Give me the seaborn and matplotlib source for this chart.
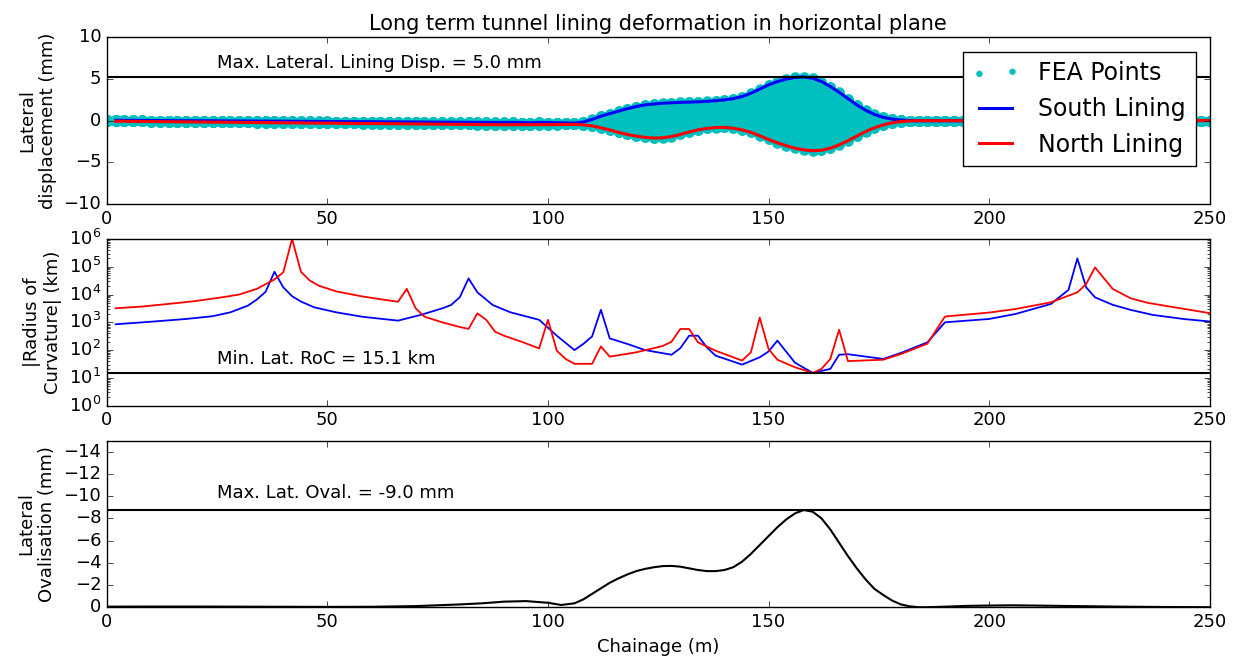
import numpy as np
import pandas as pd
import seaborn as sns
import matplotlib
matplotlib.use('Agg')
import matplotlib.pyplot as plt
from matplotlib.ticker import LogLocator

# ---- data ----

# lateral displacement of the linings (mm), every 2 m of chainage
chainage = np.arange(0, 251, 2)

south_disp = [0.05, 0.05, 0.04, 0.04, 0.03, 0.02, 0.02, 0.01, 0.0, 0.0,
              0.0, -0.01, -0.01, -0.02, -0.03, -0.03, -0.04, -0.05, -0.05, -0.06,
              -0.06, -0.07, -0.08, -0.08, -0.09, -0.09, -0.1, -0.11, -0.11, -0.12,
              -0.12, -0.13, -0.14, -0.14, -0.15, -0.15, -0.16, -0.17, -0.17, -0.18,
              -0.19, -0.19, -0.2, -0.2, -0.21, -0.21, -0.2, -0.22, -0.25, -0.2,
              -0.22, -0.24, -0.26, -0.3, -0.15, 0.15, 0.55, 0.85, 1.15, 1.45,
              1.7, 1.9, 2.0, 2.1, 2.15, 2.2, 2.23, 2.27, 2.32, 2.4,
              2.5, 2.65, 2.9, 3.3, 3.8, 4.3, 4.7, 5.0, 5.2, 5.25,
              5.1, 4.7, 4.1, 3.4, 2.65, 1.9, 1.25, 0.75, 0.4, 0.2,
              0.08, 0.02, 0.0, 0.0, 0.0, 0.0, 0.0, 0.0, 0.0, 0.0,
              0.0, 0.0, 0.0, 0.0, 0.0, 0.0, 0.0, 0.0, 0.0, 0.0,
              0.0, 0.0, 0.0, 0.0, 0.0, 0.0, 0.0, 0.0, 0.0, 0.0,
              0.0, 0.0, 0.01, 0.01, 0.02, 0.02]

north_disp = [-0.05, -0.06, -0.07, -0.08, -0.09, -0.1, -0.11, -0.12, -0.13, -0.14,
              -0.15, -0.16, -0.17, -0.18, -0.19, -0.2, -0.21, -0.22, -0.23, -0.24,
              -0.25, -0.26, -0.27, -0.28, -0.29, -0.3, -0.31, -0.32, -0.33, -0.34,
              -0.34, -0.35, -0.36, -0.37, -0.38, -0.39, -0.4, -0.41, -0.42, -0.43,
              -0.44, -0.45, -0.46, -0.47, -0.48, -0.49, -0.48, -0.48, -0.48, -0.47,
              -0.47, -0.46, -0.45, -0.44, -0.5, -0.62, -0.85, -1.1, -1.4, -1.65,
              -1.85, -2.0, -2.08, -2.05, -1.9, -1.65, -1.35, -1.1, -0.92, -0.82,
              -0.8, -0.9, -1.1, -1.4, -1.8, -2.25, -2.65, -3.0, -3.3, -3.5,
              -3.6, -3.55, -3.3, -2.9, -2.4, -1.85, -1.3, -0.85, -0.5, -0.25,
              -0.1, -0.03, 0.0, 0.0, 0.0, 0.0, 0.0, 0.0, 0.0, 0.0,
              0.0, 0.0, 0.0, 0.0, 0.0, 0.0, 0.0, 0.0, 0.0, 0.0,
              0.0, 0.0, 0.0, 0.0, 0.0, 0.0, 0.0, 0.0, 0.0, 0.0,
              0.0, 0.01, 0.01, 0.02, 0.02, 0.02]

# position of the FEA nodes across the ring, 0 = north lining, 1 = south lining
ring_fractions = [0.0, 0.01, 0.03, 0.06, 0.1, 0.15, 0.2, 0.26, 0.32, 0.39, 0.46,
                  0.54, 0.61, 0.68, 0.74, 0.8, 0.85, 0.9, 0.94, 0.97, 0.99, 1.0]

# |radius of curvature| (km)
south_roc_ch = [2, 10, 18, 24, 28, 32, 34, 36, 38, 40, 42, 44, 47, 52, 58, 66, 71, 76, 78, 80,
                82, 84, 87.5, 91.5, 98, 102, 106, 108, 110, 112, 114, 118, 122, 128, 130, 132,
                134, 136, 138, 144, 148, 150, 152, 156, 160, 164, 166, 168, 176, 180, 186, 190,
                200, 206, 214, 218, 220, 222, 224, 228, 232, 237, 244, 250]
south_roc = [850, 1050, 1320, 1660, 2290, 4000, 6600, 12600, 66000, 18200, 8700, 5600, 3470,
             2290, 1580, 1150, 1820, 3160, 4170, 7940, 38000, 12000, 4170, 2290, 1230, 330,
             100, 166, 310, 2820, 263, 166, 100, 68, 117, 330, 330, 126, 63, 30, 55, 89, 219,
             35, 15.1, 21, 68, 71, 48, 79, 190, 1000, 1320, 2000, 4570, 14800, 200000, 18200,
             7940, 4270, 2820, 1860, 1320, 1070]

north_roc_ch = [2, 8, 14, 20, 26, 30, 34, 38, 40, 42, 44, 46, 48, 52, 58, 62, 66, 68, 70, 72,
                76, 80, 82, 84, 86, 88, 90, 94, 98, 100, 102, 104, 106, 110, 112, 114, 120, 126,
                128, 130, 132, 134, 138, 144, 146, 148, 150, 152, 156, 160, 162, 164, 166, 168,
                176, 180, 186, 190, 200, 206, 214, 220, 222, 224, 228, 232, 236, 242, 250]
north_roc = [3200, 3700, 4600, 5800, 7900, 10000, 16000, 35000, 63000, 1000000, 66000, 32000,
             21000, 13000, 8500, 6800, 5500, 16000, 3200, 1600, 1000, 680, 580, 2100, 1230, 460,
             330, 200, 115, 1230, 95, 48, 32, 32, 135, 58, 83, 140, 200, 575, 575, 190, 95, 42,
             83, 1480, 110, 45, 24, 15.1, 21, 48, 540, 40, 45, 72, 170, 1620, 2240, 3020, 5250,
             12000, 24000, 95000, 16000, 7400, 5000, 3470, 2140]

# lateral ovalisation (mm)
oval_ch = [0, 10, 20, 30, 40, 50, 60, 70, 80, 85, 90, 95, 100, 103, 106, 108, 110, 112, 114,
           116, 118, 120, 122, 124, 126, 128, 130, 132, 134, 136, 138, 140, 142, 144, 146, 148,
           150, 152, 154, 156, 158, 160, 162, 164, 166, 168, 170, 172, 174, 176, 178, 180, 182,
           184, 186, 190, 195, 200, 205, 210, 220, 230, 240, 250]
oval = [-0.05, -0.06, -0.06, -0.05, -0.04, -0.03, -0.04, -0.1, -0.25, -0.35, -0.5, -0.55, -0.4,
        -0.2, -0.35, -0.7, -1.2, -1.7, -2.2, -2.6, -2.95, -3.25, -3.45, -3.6, -3.7, -3.72, -3.65,
        -3.5, -3.35, -3.25, -3.25, -3.35, -3.6, -4.1, -4.8, -5.6, -6.4, -7.2, -7.9, -8.45, -8.75,
        -8.6, -8.0, -7.0, -5.8, -4.6, -3.5, -2.5, -1.65, -1.1, -0.6, -0.25, -0.08, 0.0, 0.0,
        -0.05, -0.12, -0.15, -0.17, -0.15, -0.1, -0.05, -0.02, 0.0]

min_roc = 15.1

# FEA point cloud
fea_x, fea_y = [], []
for c, s, n in zip(chainage, south_disp, north_disp):
    for f in ring_fractions:
        fea_x.append(c)
        fea_y.append(n + f * (s - n))
fea = pd.DataFrame({'chainage': fea_x, 'disp': fea_y})

# ---- plot ----
plt.style.use('classic')
plt.rcParams['font.family'] = ['DejaVu Sans']
plt.rcParams['font.size'] = 13
plt.rcParams['figure.facecolor'] = 'white'
plt.rcParams['savefig.facecolor'] = 'white'

fig, (ax1, ax2, ax3) = plt.subplots(3, 1, figsize=(12.42, 6.68), dpi=100)
fig.subplots_adjust(left=0.086, right=0.974, top=0.944, bottom=0.091, hspace=0.21)

# top: lateral displacement
sns.scatterplot(data=fea, x='chainage', y='disp', color='c', s=58, linewidth=0,
                label='FEA Points', ax=ax1, zorder=1)
sns.lineplot(x=chainage[1:], y=south_disp[1:], color='b', lw=2.2, label='South Lining', ax=ax1)
sns.lineplot(x=chainage[1:], y=north_disp[1:], color='r', lw=2.2, label='North Lining', ax=ax1)
max_disp = max(max(south_disp), -min(north_disp))
ax1.axhline(max_disp, color='k', lw=1.5)
ax1.text(25, max_disp + 0.6, 'Max. Lateral. Lining Disp. = 5.0 mm', fontsize=13, va='bottom')
ax1.set_xlim(0, 250)
ax1.set_ylim(-10, 10)
ax1.set_yticks([-10, -5, 0, 5, 10])
ax1.set_xlabel('')
ax1.set_ylabel('Lateral\ndisplacement (mm)', fontsize=13)
ax1.set_title('Long term tunnel lining deformation in horizontal plane', fontsize=15)
ax1.legend(loc='upper right', fontsize=17, scatterpoints=2, markerscale=0.6,
           handlelength=2, borderaxespad=0.6)

# middle: radius of curvature
sns.lineplot(x=south_roc_ch, y=south_roc, color='b', lw=1.3, ax=ax2)
sns.lineplot(x=north_roc_ch, y=north_roc, color='r', lw=1.3, ax=ax2)
ax2.axhline(min_roc, color='k', lw=1.5)
ax2.set_yscale('log')
ax2.text(25, min_roc * 1.45, 'Min. Lat. RoC = 15.1 km', fontsize=13, va='bottom')
ax2.set_xlim(0, 250)
ax2.set_ylim(1, 1e6)
ax2.yaxis.set_major_locator(LogLocator(base=10, numticks=10))
ax2.yaxis.set_minor_locator(LogLocator(base=10, subs=np.arange(2, 10), numticks=10))
ax2.set_ylabel('|Radius of\nCurvature| (km)', fontsize=13)

# bottom: ovalisation
sns.lineplot(x=oval_ch, y=oval, color='k', lw=1.5, ax=ax3)
max_oval = min(oval)
ax3.axhline(max_oval, color='k', lw=1.5)
ax3.text(25, max_oval - 0.7, 'Max. Lat. Oval. = -9.0 mm', fontsize=13, va='bottom')
ax3.set_xlim(0, 250)
ax3.set_ylim(0, -15)
ax3.set_yticks(np.arange(0, -15, -2))
ax3.set_ylabel('Lateral\nOvalisation (mm)', fontsize=13)
ax3.set_xlabel('Chainage (m)', fontsize=13)

for ax in (ax1, ax2, ax3):
    ax.tick_params(labelsize=13)

fig.savefig('out.png', dpi=100)
